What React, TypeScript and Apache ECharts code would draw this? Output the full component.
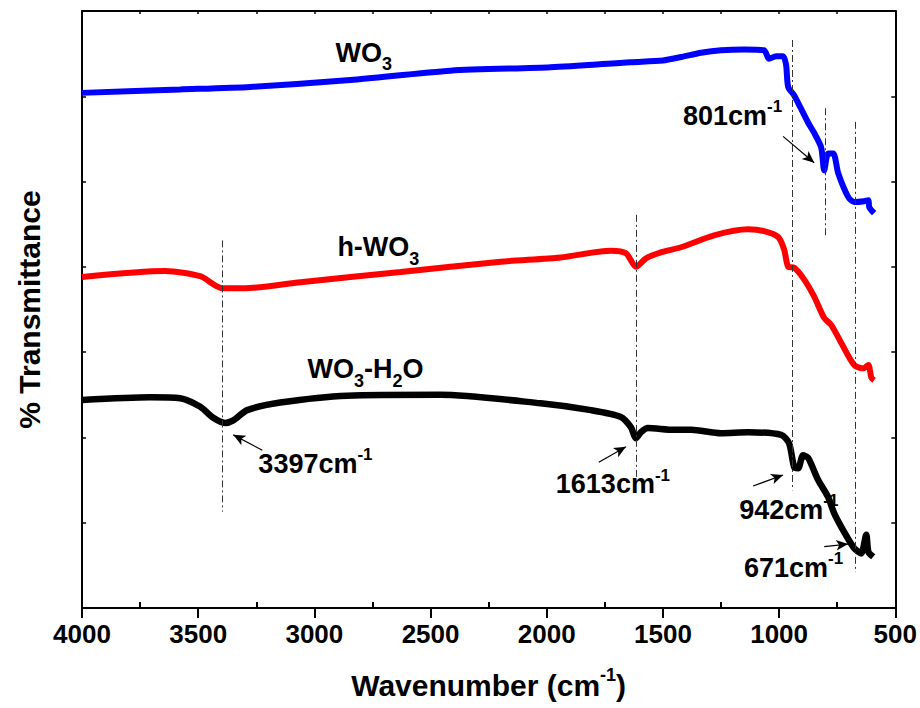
import React, { useEffect, useRef } from 'react';
import * as echarts from 'echarts';

// ---- data (wavenumber cm-1, transmittance in arbitrary offset units) ----
const wo3Wavenumber = [4000, 3578, 3276, 2845, 2414, 1983, 1638, 1500, 1422, 1336, 1250, 1150, 1065, 1043, 1013, 983, 970, 961, 935, 875, 849, 819, 806, 789, 767, 746, 703, 677, 634, 616, 612, 591];
const wo3Transmittance = [6.04, 6.08, 6.11, 6.19, 6.30, 6.34, 6.40, 6.42, 6.46, 6.51, 6.54, 6.55, 6.54, 6.44, 6.47, 6.47, 6.37, 6.11, 6.01, 5.69, 5.57, 5.40, 5.13, 5.33, 5.33, 5.10, 4.82, 4.76, 4.77, 4.78, 4.70, 4.63];

const hwo3Wavenumber = [4000, 3642, 3491, 3397, 3297, 3060, 2629, 2198, 1940, 1724, 1659, 1616, 1573, 1509, 1422, 1280, 1134, 1065, 1004, 978, 961, 935, 892, 849, 806, 776, 733, 677, 638, 616, 603, 591];
const hwo3Transmittance = [3.88, 3.95, 3.89, 3.75, 3.75, 3.82, 3.94, 4.06, 4.11, 4.19, 4.16, 4.00, 4.10, 4.17, 4.23, 4.37, 4.44, 4.42, 4.35, 4.20, 4.00, 3.99, 3.85, 3.65, 3.40, 3.32, 3.11, 2.85, 2.81, 2.85, 2.70, 2.67];

const hydWavenumber = [4000, 3707, 3578, 3491, 3435, 3384, 3349, 3289, 3147, 2858, 2457, 2026, 1810, 1681, 1638, 1616, 1595, 1565, 1453, 1379, 1250, 1134, 991, 957, 935, 918, 897, 875, 832, 789, 763, 720, 677, 647, 625, 616, 595];
const hydTransmittance = [2.44, 2.47, 2.46, 2.36, 2.23, 2.17, 2.20, 2.32, 2.41, 2.49, 2.50, 2.40, 2.32, 2.24, 2.12, 1.99, 2.06, 2.11, 2.09, 2.09, 2.05, 2.06, 2.03, 1.93, 1.65, 1.64, 1.79, 1.76, 1.50, 1.30, 1.11, 0.89, 0.70, 0.64, 0.86, 0.66, 0.60];

const xTickLabels = [4000, 3500, 3000, 2500, 2000, 1500, 1000, 500];
const xMinorTicks = [3750, 3250, 2750, 2250, 1750, 1250, 750];
const peakNames = ['3397', '1613', '942', '801', '671'];
const peakWavenumbers = [3397, 1613, 942, 801, 671];
const peakLineTop = [4.31, 4.61, 6.66, 5.86, 5.70];
const peakLineBottom = [1.13, 1.50, 1.38, 4.37, 0.42];

const FONT = "'Liberation Sans', Arial, sans-serif";

export default function App() {
  const ref = useRef<HTMLDivElement>(null);
  useEffect(() => {
    const chart = echarts.init(ref.current!, null, { renderer: 'svg' });
    const base = { fontFamily: FONT, fontWeight: 'bold' as const, color: '#000', textBorderWidth: 0 };
    const rich: any = {
      m: { ...base, fontSize: 27, lineHeight: 27, verticalAlign: 'top' },
      sub: { ...base, fontSize: 18, lineHeight: 18, padding: [16, 0, 0, 0], verticalAlign: 'top' },
      mb: { ...base, fontSize: 27, lineHeight: 27, verticalAlign: 'bottom' },
      sup: { ...base, fontSize: 17, lineHeight: 17, padding: [0, 0, 14, 0], verticalAlign: 'bottom' },
      n: { ...base, fontSize: 30, lineHeight: 30, verticalAlign: 'bottom' },
      ns: { ...base, fontSize: 18, lineHeight: 18, padding: [0, 0, 16, 0], verticalAlign: 'bottom' },
    };

    const pair = (xs: number[], ys: number[]) => xs.map((x, i) => [x, ys[i]]);

    // annotation anchors (left edge / vertical centre of the text) in data coordinates
    const textItems = [
      { value: [2909, 6.51], name: '{m|WO}{sub|3}' },
      { value: [2901, 4.23], name: '{m|h-WO}{sub|3}' },
      { value: [3030, 2.80], name: '{m|WO}{sub|3}{m|-H}{sub|2}{m|O}' },
      { value: [3241, 1.69], name: `{mb|${peakNames[0]}cm}{sup|-1}` },
      { value: [1961, 1.45], name: `{mb|${peakNames[1]}cm}{sup|-1}` },
      { value: [1172, 1.15], name: `{mb|${peakNames[2]}cm}{sup|-1}` },
      { value: [1414, 5.77], name: `{mb|${peakNames[3]}cm}{sup|-1}` },
      { value: [1151, 0.47], name: `{mb|${peakNames[4]}cm}{sup|-1}` },
    ];

    const arrows = [
      [[3224, 1.85], [3349, 2.03]],
      [[1776, 1.71], [1659, 1.89]],
      [[1112, 1.43], [983, 1.56]],
      [[983, 5.53], [849, 5.22]],
      [[806, 0.72], [703, 0.75]],
    ];

    const guideLines = peakWavenumbers.map((w, i) => [
      { coord: [w, peakLineTop[i]] },
      { coord: [w, peakLineBottom[i]] },
    ]);

    const lineSeries = (name: string, data: number[][], color: string, width: number) => ({
      name,
      type: 'line',
      data,
      xAxisIndex: 0,
      yAxisIndex: 0,
      showSymbol: false,
      symbol: 'none',
      smooth: 0.25,
      lineStyle: { color, width },
      silent: true,
    });

    const axisCommonX = {
      type: 'value',
      min: 500,
      max: 4000,
      inverse: true,
      splitLine: { show: false },
    };

    const option: any = {
      animation: false,
      backgroundColor: '#fff',
      grid: { left: 82, right: 24, top: 11, bottom: 100, containLabel: false },
      xAxis: [
        {
          ...axisCommonX,
          interval: 500,
          position: 'bottom',
          axisLine: { show: true, lineStyle: { color: '#000', width: 2 } },
          axisTick: { show: true, inside: false, length: 10, lineStyle: { color: '#000', width: 2 } },
          axisLabel: {
            show: true,
            customValues: xTickLabels,
            formatter: (v: number) => String(v),
            fontSize: 26,
            fontWeight: 'bold',
            fontFamily: FONT,
            color: '#000',
            margin: 13,
          },
          name: '{n|Wavenumber (cm}{ns|-1}{n|)}',
          nameLocation: 'middle',
          nameGap: 62,
          nameTextStyle: { rich },
        },
        {
          ...axisCommonX,
          position: 'bottom',
          axisLine: { show: false },
          axisTick: { show: true, inside: true, length: 6, customValues: xMinorTicks, lineStyle: { color: '#000', width: 2 } },
          axisLabel: { show: false },
        },
        {
          ...axisCommonX,
          interval: 250,
          position: 'top',
          axisLine: { show: true, lineStyle: { color: '#000', width: 2 } },
          axisTick: { show: true, inside: true, length: 3, lineStyle: { color: '#000', width: 1.5 } },
          axisLabel: { show: false },
        },
      ],
      yAxis: [
        {
          type: 'value',
          min: 0,
          max: 7,
          interval: 1,
          position: 'left',
          axisLine: { show: true, lineStyle: { color: '#000', width: 2 } },
          axisTick: { show: true, inside: true, length: 4, lineStyle: { color: '#000', width: 1.5 } },
          axisLabel: { show: false },
          splitLine: { show: false },
          name: '% Transmittance',
          nameLocation: 'middle',
          nameGap: 38,
          nameTextStyle: { fontSize: 30, fontWeight: 'bold', fontFamily: FONT, color: '#000' },
        },
        {
          type: 'value',
          min: 0,
          max: 7,
          interval: 1,
          position: 'right',
          axisLine: { show: true, lineStyle: { color: '#000', width: 2 } },
          axisTick: { show: true, inside: true, length: 4, lineStyle: { color: '#000', width: 1.5 } },
          axisLabel: { show: false },
          splitLine: { show: false },
        },
      ],
      series: [
        {
          ...lineSeries('WO3-H2O', pair(hydWavenumber, hydTransmittance), '#000000', 6.5),
          markLine: {
            silent: true,
            symbol: ['none', 'none'],
            label: { show: false },
            lineStyle: { color: '#333', width: 1, type: [7, 3, 2, 3] },
            data: guideLines,
          },
        },
        lineSeries('h-WO3', pair(hwo3Wavenumber, hwo3Transmittance), '#ff0000', 6),
        lineSeries('WO3', pair(wo3Wavenumber, wo3Transmittance), '#0000ff', 6),
        {
          name: 'annotations',
          type: 'scatter',
          xAxisIndex: 0,
          yAxisIndex: 0,
          symbolSize: 0,
          silent: true,
          z: 5,
          itemStyle: { opacity: 1, color: '#000' },
          data: textItems,
          label: {
            show: true,
            position: 'right',
            distance: 0,
            align: 'left',
            verticalAlign: 'middle',
            color: '#000',
            opacity: 1,
            textBorderWidth: 0,
            formatter: (p: any) => p.name,
            rich,
          },
          markLine: {
            silent: true,
            symbol: ['none', 'arrow'],
            symbolSize: [8, 12],
            label: { show: false },
            lineStyle: { color: '#000', width: 1.2, type: 'solid', opacity: 1 },
            itemStyle: { opacity: 1 },
            data: arrows.map(([a, b]) => [{ coord: a }, { coord: b }]),
          },
        },
      ],
    };
    chart.setOption(option);
    return () => chart.dispose();
  }, []);
  return <div ref={ref} style={{ position: 'fixed', left: 0, top: 0, width: 920, height: 708 }} />;
}
